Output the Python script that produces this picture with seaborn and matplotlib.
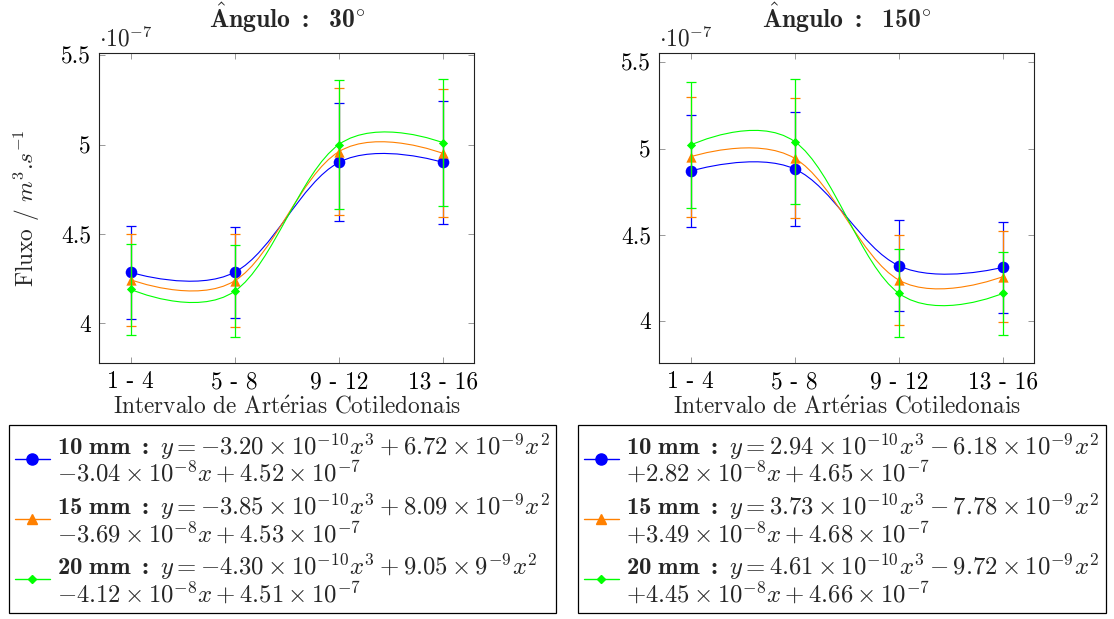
import numpy as np
import pandas as pd
import matplotlib
matplotlib.use("Agg")
import matplotlib.pyplot as plt
from matplotlib.path import Path
from matplotlib.patches import PathPatch
from matplotlib.lines import Line2D
import seaborn as sns

# ---------------- data (flux values in units of 1e-7 m^3/s) ----------------
categories = ['1 - 4', '5 - 8', '9 - 12', '13 - 16']

f30_10 = [4.285, 4.286, 4.900, 4.900]
e30_10 = [0.262, 0.255, 0.330, 0.344]
f30_15 = [4.244, 4.238, 4.960, 4.950]
e30_15 = [0.257, 0.261, 0.355, 0.358]
f30_20 = [4.190, 4.180, 5.000, 5.010]
e30_20 = [0.253, 0.256, 0.363, 0.356]

f150_10 = [4.869, 4.881, 4.319, 4.310]
e150_10 = [0.326, 0.330, 0.265, 0.263]
f150_15 = [4.952, 4.943, 4.236, 4.256]
e150_15 = [0.350, 0.349, 0.259, 0.263]
f150_20 = [5.020, 5.040, 4.159, 4.159]
e150_20 = [0.365, 0.364, 0.255, 0.241]

yticks = [4, 4.5, 5, 5.5]
ytick_labels = ['4', '4.5', '5', '5.5']

labels30 = [
    r'$\mathbf{10\ mm\ :}\ y=-3.20\times10^{-10}x^3+6.72\times10^{-9}x^2$' '\n'
    r'$-3.04\times10^{-8}x+4.52\times10^{-7}$',
    r'$\mathbf{15\ mm\ :}\ y=-3.85\times10^{-10}x^3+8.09\times10^{-9}x^2$' '\n'
    r'$-3.69\times10^{-8}x+4.53\times10^{-7}$',
    r'$\mathbf{20\ mm\ :}\ y=-4.30\times10^{-10}x^3+9.05\times9^{-9}x^2$' '\n'
    r'$-4.12\times10^{-8}x+4.51\times10^{-7}$',
]
labels150 = [
    r'$\mathbf{10\ mm\ :}\ y=2.94\times10^{-10}x^3-6.18\times10^{-9}x^2$' '\n'
    r'$+2.82\times10^{-8}x+4.65\times10^{-7}$',
    r'$\mathbf{15\ mm\ :}\ y=3.73\times10^{-10}x^3-7.78\times10^{-9}x^2$' '\n'
    r'$+3.49\times10^{-8}x+4.68\times10^{-7}$',
    r'$\mathbf{20\ mm\ :}\ y=4.61\times10^{-10}x^3-9.72\times10^{-9}x^2$' '\n'
    r'$+4.45\times10^{-8}x+4.66\times10^{-7}$',
]

colors = ['#0000ff', '#ff8000', '#00ff00']
markers = ['o', '^', 'D']
msizes = [70, 55, 22]

# ---------------- style ----------------
sns.set_theme(style='white')
plt.rcParams['font.family'] = 'serif'
plt.rcParams['font.serif'] = ['cmr10']
plt.rcParams['mathtext.fontset'] = 'custom'
plt.rcParams['mathtext.rm'] = 'cmr10'
plt.rcParams['mathtext.it'] = 'cmmi10'
plt.rcParams['mathtext.bf'] = 'cmb10'
plt.rcParams['mathtext.sf'] = 'cmss10'
plt.rcParams['mathtext.tt'] = 'cmtt10'
plt.rcParams['mathtext.cal'] = 'cmsy10'
plt.rcParams['mathtext.fallback'] = 'cm'
plt.rcParams['axes.unicode_minus'] = False
plt.rcParams['axes.formatter.use_mathtext'] = True
FS = 16.8
LFS = 17.8


def smooth_path(xs, ys, tension=0.55 / 3):
    pts = np.column_stack([xs, ys]).astype(float)
    n = len(pts)
    verts = [pts[0]]
    codes = [Path.MOVETO]
    for i in range(n - 1):
        c1 = pts[i] if i == 0 else pts[i] + tension * (pts[i + 1] - pts[i - 1])
        c2 = pts[i + 1] if i + 1 == n - 1 else pts[i + 1] - tension * (pts[i + 2] - pts[i])
        verts += [c1, c2, pts[i + 1]]
        codes += [Path.CURVE4] * 3
    return Path(np.array(verts), codes)


fig = plt.figure(figsize=(11.14, 6.19), dpi=100)
W, H = 1114, 619
ax1 = fig.add_axes([99.3 / W, 1 - 362.7 / H, 375 / W, 309.4 / H])
ax2 = fig.add_axes([659.3 / W, 1 - 362.7 / H, 375 / W, 309.4 / H])

panels = [
    (ax1, [f30_10, f30_15, f30_20], [e30_10, e30_15, e30_20], (3.78, 5.51), r'30', labels30, 9),
    (ax2, [f150_10, f150_15, f150_20], [e150_10, e150_15, e150_20], (3.756, 5.553), r'150', labels150, 578),
]

xpos = np.arange(len(categories))
for ax, series, errs, ylim, ang, labels, legx in panels:
    for k, (vals, err) in enumerate(zip(series, errs)):
        c = colors[k]
        ax.errorbar(xpos, vals, yerr=err, fmt='none', ecolor=c, elinewidth=0.9,
                    capsize=3.8, capthick=0.9, zorder=2 + k)
        ax.add_patch(PathPatch(smooth_path(xpos, vals), facecolor='none',
                               edgecolor=c, lw=0.8, zorder=2 + k))
        df = pd.DataFrame({'x': xpos, 'y': vals})
        sns.scatterplot(data=df, x='x', y='y', color=c, marker=markers[k],
                        s=msizes[k], linewidth=0, ax=ax, zorder=3 + k)
    ax.set_xlim(-0.3, 3.3)
    ax.set_ylim(*ylim)
    ax.set_xticks(xpos)
    ax.set_xticklabels(categories, fontsize=FS)
    ax.set_yticks(yticks)
    ax.set_yticklabels(ytick_labels, fontsize=FS)
    ax.tick_params(direction='in', length=4.5, width=0.6, color='#888888',
                   top=True, right=True, bottom=True, left=True, pad=6,
                   labelcolor='black')
    for s in ax.spines.values():
        s.set_color('#222222')
        s.set_linewidth(0.8)
    ax.set_xlabel(r'Intervalo de Art$\acute{\mathrm{e}}$rias Cotiledonais', fontsize=FS, labelpad=2)
    ax.set_ylabel('')
    ax.set_title(r'$\mathbf{\hat{A}ngulo\ :\ \ ' + ang + r'}^{\circ}$', fontsize=18.5, pad=18)
    ax.text(0.0, 1.005, r'$\cdot10^{-7}$', transform=ax.transAxes, ha='left', va='bottom', fontsize=FS)

    handles = [Line2D([], [], color=colors[k], marker=markers[k], lw=1,
                      markersize=[8, 7, 4.5][k]) for k in range(3)]
    leg = fig.legend(handles, labels, loc='upper left', bbox_to_anchor=(legx / W, 1 - 425 / H),
                     fontsize=LFS, frameon=True, fancybox=False, edgecolor='black', framealpha=1,
                     handlelength=1.4, handletextpad=0.3, labelspacing=0.2, borderpad=0.25,
                     borderaxespad=0)
    leg.get_frame().set_linewidth(0.9)
    for t in leg.get_texts():
        t.set_linespacing(0.92)

ax1.set_ylabel(r'Fluxo / $m^3$.$s^{-1}$', fontsize=FS, labelpad=14)

fig.savefig('out.png', dpi=100)
